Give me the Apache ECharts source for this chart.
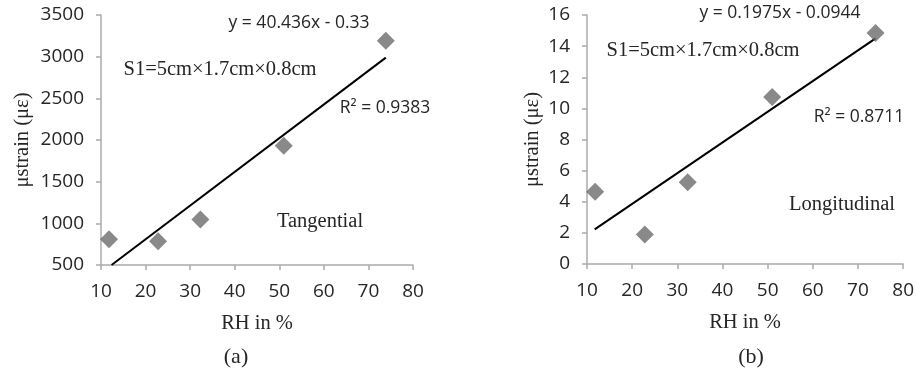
<!DOCTYPE html>
<html>
<head>
<meta charset="utf-8">
<script src="https://cdn.jsdelivr.net/npm/echarts@6/dist/echarts.min.js"></script>
<style>html,body{margin:0;padding:0;background:#fff}#c{width:917px;height:378px}</style>
</head>
<body>
<div id="c"></div>
<script>
// Data
const rh = [11.8, 22.8, 32.3, 51.0, 73.9];
const tangential = [810, 785, 1045, 1930, 3190];
const longitudinal = [4.65, 1.9, 5.25, 10.73, 14.85];
const tangTrend = [[12.37, 500], [73.9, 2988]];
const longTrend = [[11.7, 2.22], [73.9, 14.5]];
const xTicks = {min: 10, max: 80, interval: 10};
const yTicksA = {min: 500, max: 3500, interval: 500};
const yTicksB = {min: 0, max: 16, interval: 2};

const sans = '"Open Sans", sans-serif';
const serif = '"Liberation Serif", "DejaVu Serif", serif';
const axisGrey = '#ababab';
const labelCol = '#262626';

function xAxis(gridIndex) {
  return {
    type: 'value', gridIndex, min: xTicks.min, max: xTicks.max, interval: xTicks.interval,
    axisLine: {show: true, lineStyle: {color: axisGrey, width: 1.5}},
    axisTick: {show: true, length: 5, lineStyle: {color: axisGrey, width: 1.5}},
    axisLabel: {fontFamily: sans, fontSize: 19, color: labelCol, margin: 17, formatter: v => String(v)},
    splitLine: {show: false},
    name: 'RH in %', nameLocation: 'middle', nameGap: 48,
    nameTextStyle: {fontFamily: serif, fontSize: 20.5, color: labelCol}
  };
}
function yAxis(gridIndex, t) {
  return {
    type: 'value', gridIndex, min: t.min, max: t.max, interval: t.interval,
    axisLine: {show: true, lineStyle: {color: axisGrey, width: 1.5}},
    axisTick: {show: true, length: 5, lineStyle: {color: axisGrey, width: 1.5}},
    axisLabel: {fontFamily: sans, fontSize: 19, color: labelCol, margin: 17, formatter: v => String(v)},
    splitLine: {show: false},
    name: 'μstrain (με)', nameLocation: 'middle', nameRotate: 90,
    nameGap: gridIndex === 0 ? 68 : 44,
    nameTextStyle: {fontFamily: serif, fontSize: 20.5, color: labelCol}
  };
}
function pts(xs, ys) { return xs.map((x, i) => [x, ys[i]]); }

const chart = echarts.init(document.getElementById('c'));
function txt(x, y, s, font, size, align) {
  return {type: 'text', x, y, style: {text: s, font: size + 'px ' + font, fill: labelCol, align: align || 'center', verticalAlign: 'middle'}};
}
chart.setOption({
  animation: false,
  grid: [
    {left: 101, top: 15, width: 312, height: 250},
    {left: 587, top: 15, width: 318, height: 249}
  ],
  xAxis: [xAxis(0), xAxis(1)],
  yAxis: [yAxis(0, yTicksA), yAxis(1, yTicksB)],
  series: [
    {type: 'line', xAxisIndex: 0, yAxisIndex: 0, data: tangTrend, showSymbol: false, symbol: 'none',
     lineStyle: {color: '#000', width: 2}, z: 2},
    {type: 'scatter', xAxisIndex: 0, yAxisIndex: 0, data: pts(rh, tangential), symbol: 'diamond', symbolSize: 18,
     itemStyle: {color: '#6b6b6b'}, z: 3},
    {type: 'line', xAxisIndex: 1, yAxisIndex: 1, data: longTrend, showSymbol: false, symbol: 'none',
     lineStyle: {color: '#000', width: 2}, z: 2},
    {type: 'scatter', xAxisIndex: 1, yAxisIndex: 1, data: pts(rh, longitudinal), symbol: 'diamond', symbolSize: 18,
     itemStyle: {color: '#6b6b6b'}, z: 3}
  ],
  graphic: [
    txt(299, 23, 'y = 40.436x - 0.33', sans, 17.5),
    txt(220, 70, 'S1=5cm×1.7cm×0.8cm', serif, 20.5),
    txt(385, 108, 'R² = 0.9383', sans, 17.5),
    txt(320, 222, 'Tangential', serif, 20.5),
    txt(236, 357, '(a)', serif, 22),
    txt(780, 13, 'y = 0.1975x - 0.0944', sans, 17.5),
    txt(703, 51, 'S1=5cm×1.7cm×0.8cm', serif, 20.5),
    txt(859, 117, 'R² = 0.8711', sans, 17.5),
    txt(842, 205, 'Longitudinal', serif, 20.5),
    txt(751, 357, '(b)', serif, 22)
  ]
});
</script>
</body>
</html>
